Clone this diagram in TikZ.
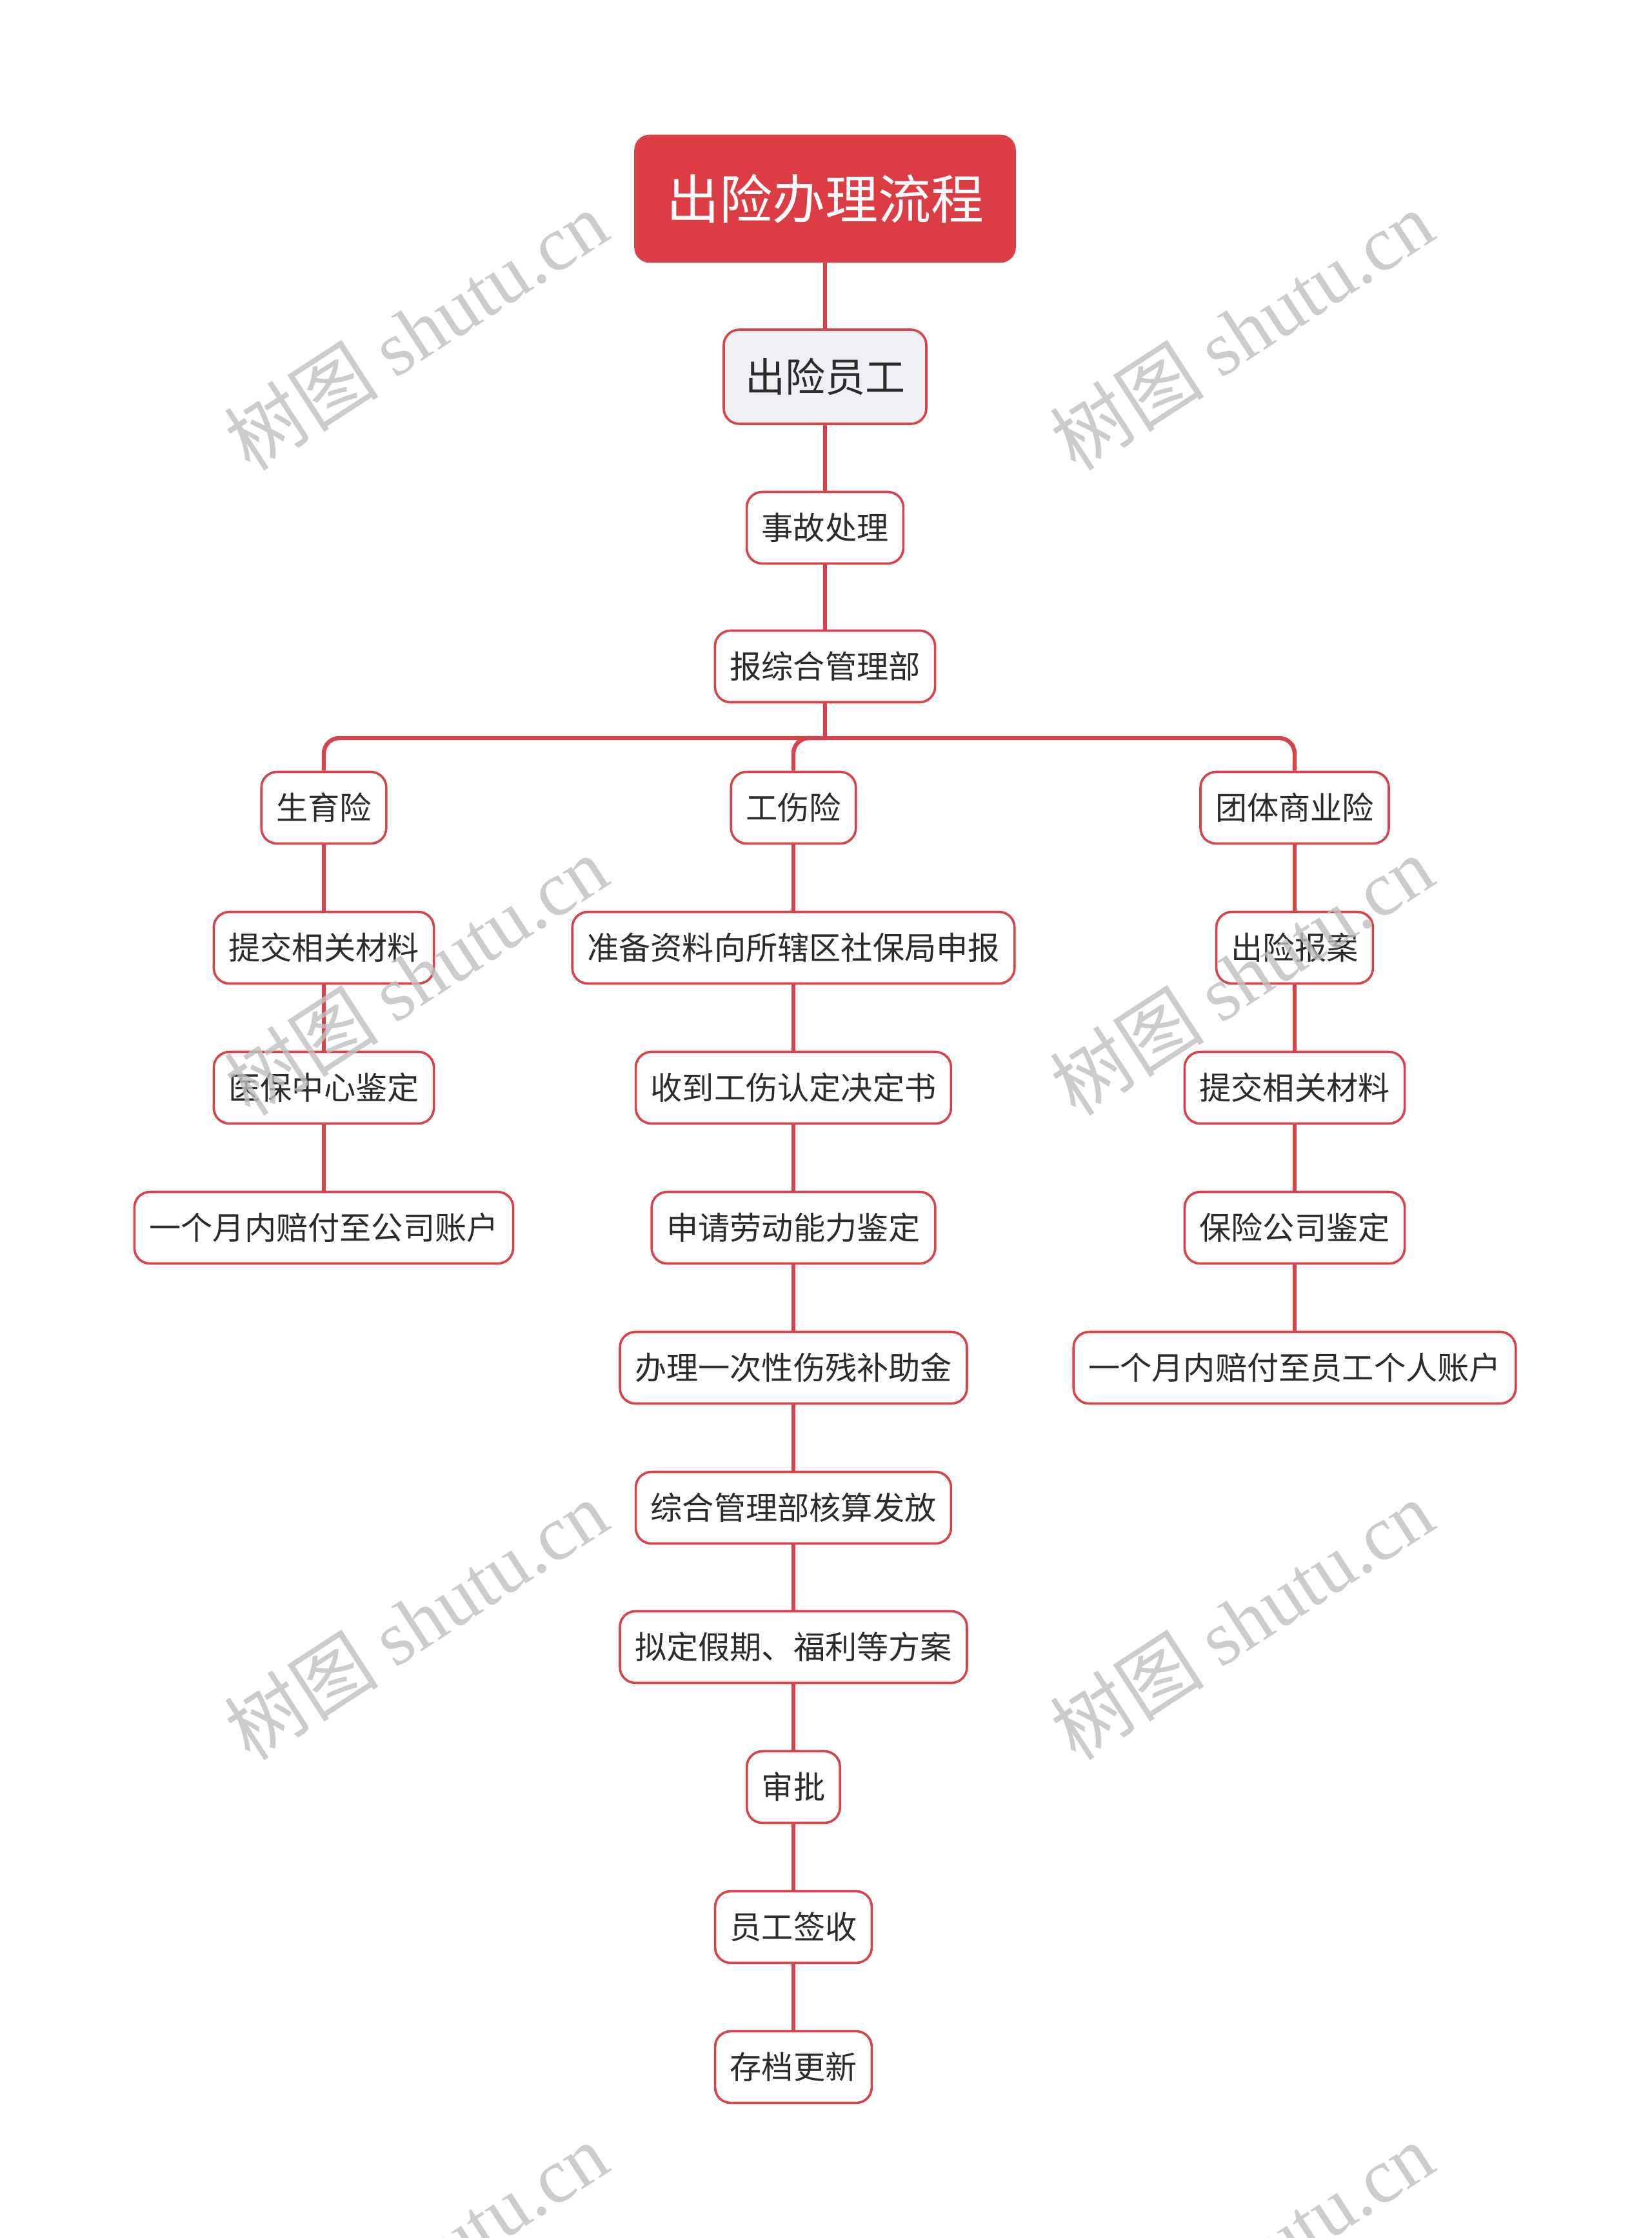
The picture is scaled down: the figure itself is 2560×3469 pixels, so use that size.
\documentclass[tikz,border=0pt]{standalone}
\usepackage{fontspec}
\setmainfont{Noto Sans CJK SC}
\newfontfamily\wmlatin{Liberation Serif}
\definecolor{xmred}{HTML}{DC3D45}
\definecolor{xmline}{HTML}{D8424A}
\definecolor{xmpale}{HTML}{EEF0F3}
\definecolor{xmtext}{HTML}{2B2B2B}
\tikzset{
  stepbox/.style={draw=xmline, line width=0.9pt, rounded corners=6pt, fill=white,
    text=xmtext, font=\fontsize{12.3pt}{14pt}\selectfont, inner xsep=5.75pt,
    minimum height=27.75pt, text height=9.9pt, text depth=0.6pt},
  rootbox/.style={draw=xmline, line width=0.9pt, rounded corners=5.5pt, fill=xmred,
    text=white, font=\fontsize{20.5pt}{24pt}\selectfont, inner xsep=12pt,
    minimum height=48.75pt, text height=16.5pt, text depth=1pt},
  empbox/.style={stepbox, fill=xmpale, font=\fontsize{15.5pt}{18pt}\selectfont,
    inner xsep=8.25pt, minimum height=36.5pt, text height=12.5pt, text depth=0.8pt},
  link/.style={draw=xmline, line width=1.6pt},
  watermark/.style={rotate=33, text=black!25, text opacity=0.8,
    font=\fontsize{30pt}{34pt}\selectfont}
}
\begin{document}
\begin{tikzpicture}[x=0.25pt, y=-0.25pt]
    \useasboundingbox (0,0) rectangle (2560,3469);
    % Trunk
    \node[rootbox] (root) at (1279,308) {出险办理流程};
    \node[empbox] (emp) at (1279,584) {出险员工};
    \node[stepbox] (acc) at (1279,818) {事故处理};
    \node[stepbox] (rep) at (1279,1033) {报综合管理部};
    \coordinate (bar) at (1279,1144);
    % Left branch: 生育险
    \node[stepbox] (sy) at (502,1252) {生育险};
    \node[stepbox] (sy1) at (502,1469) {提交相关材料};
    \node[stepbox] (sy2) at (502,1686) {医保中心鉴定};
    \node[stepbox] (sy3) at (502,1903) {一个月内赔付至公司账户};
    % Middle branch: 工伤险
    \node[stepbox] (gs) at (1230,1252) {工伤险};
    \node[stepbox] (gs1) at (1230,1469) {准备资料向所辖区社保局申报};
    \node[stepbox] (gs2) at (1230,1686) {收到工伤认定决定书};
    \node[stepbox] (gs3) at (1230,1903) {申请劳动能力鉴定};
    \node[stepbox] (gs4) at (1230,2120) {办理一次性伤残补助金};
    \node[stepbox] (gs5) at (1230,2337) {综合管理部核算发放};
    \node[stepbox] (gs6) at (1230,2553) {拟定假期、福利等方案};
    \node[stepbox] (gs7) at (1230,2770) {审批};
    \node[stepbox] (gs8) at (1230,2987) {员工签收};
    \node[stepbox] (gs9) at (1230,3204) {存档更新};
    % Right branch: 团体商业险
    \node[stepbox] (tt) at (2007,1252) {团体商业险};
    \node[stepbox] (tt1) at (2007,1469) {出险报案};
    \node[stepbox] (tt2) at (2007,1686) {提交相关材料};
    \node[stepbox] (tt3) at (2007,1903) {保险公司鉴定};
    \node[stepbox] (tt4) at (2007,2120) {一个月内赔付至员工个人账户};
    % Connectors
    \foreach \a/\b in {root/emp, emp/acc, acc/rep,
        sy/sy1, sy1/sy2, sy2/sy3,
        gs/gs1, gs1/gs2, gs2/gs3, gs3/gs4, gs4/gs5, gs5/gs6, gs6/gs7, gs7/gs8, gs8/gs9,
        tt/tt1, tt1/tt2, tt2/tt3, tt3/tt4}
        \draw[link] (\a) -- (\b);
    \draw[link] (rep) -- (bar);
    \foreach \b in {sy, gs, tt}
        \draw[link, rounded corners=6pt] (bar) -| (\b.north);
    % Watermarks
    \begin{scope}
        \clip (0,0) rectangle (2560,3469);
        \foreach \wx in {645,1925}
            \foreach \wy in {512,1512,2511,3507}
                \node[watermark] (wm) at (\wx,\wy) {树图 {\wmlatin shutu.cn}};
    \end{scope}
\end{tikzpicture}
\end{document}
